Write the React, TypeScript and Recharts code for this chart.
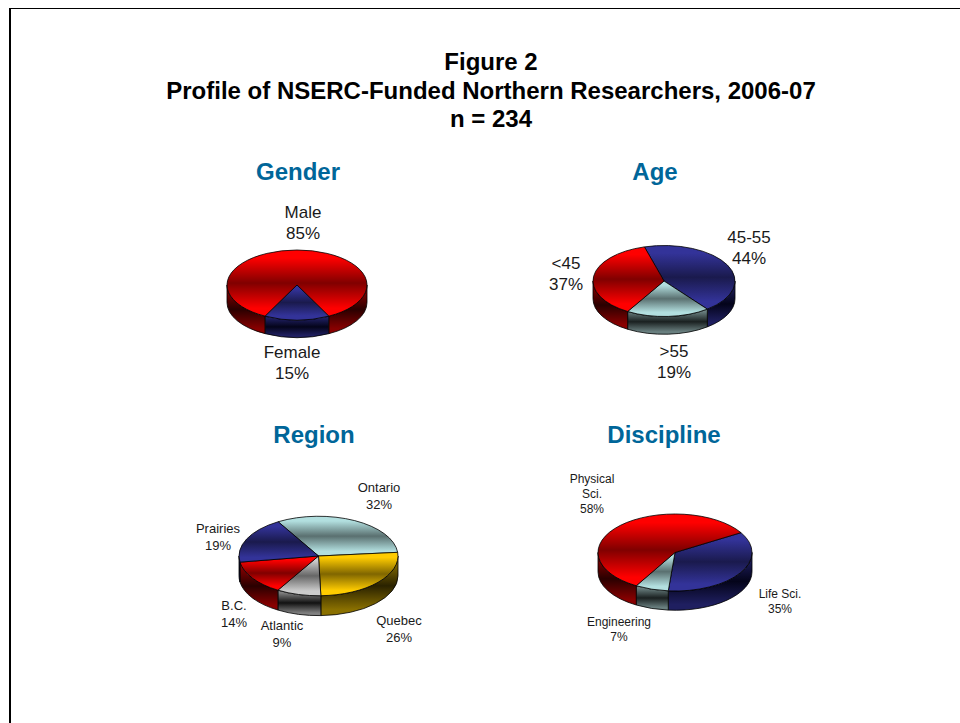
import { PieChart, Pie } from 'recharts';

// ─── Data ─────────────────────────────────────────────────────────────────────

const genderLabels = ['Male', 'Female'];
const genderValues = [85, 15];

const ageLabels = ['45-55', '>55', '<45'];
const ageValues = [44, 19, 37];

const regionLabels = ['Ontario', 'Quebec', 'Atlantic', 'B.C.', 'Prairies'];
const regionValues = [32, 26, 9, 14, 19];

const disciplineLabels = ['Life Sci.', 'Engineering', 'Physical\nSci.'];
const disciplineValues = [35, 7, 58];

const titleLines = ['Figure 2', 'Profile of NSERC-Funded Northern Researchers, 2006-07', 'n = 234'];

// ─── Colours ──────────────────────────────────────────────────────────────────

const SHADES: Record<string, { top: string; mid: string; wallTop: string; wallMid: string }> = {
  red: { top: '#FF0000', mid: '#800000', wallTop: '#880000', wallMid: '#2A0000' },
  blue: { top: '#333399', mid: '#1A1A4D', wallTop: '#1F1F60', wallMid: '#04041A' },
  teal: { top: '#B2DFDF', mid: '#5A7070', wallTop: '#6A8080', wallMid: '#1A2020' },
  gold: { top: '#FFCC00', mid: '#806600', wallTop: '#8A7000', wallMid: '#2A2200' },
  gray: { top: '#CCCCCC', mid: '#666666', wallTop: '#808080', wallMid: '#111111' },
};

const FONT = "'Liberation Sans', Arial, sans-serif";

// ─── 3D slice ─────────────────────────────────────────────────────────────────

const TILT = 0.5;
const DEPTH = 0.25;

function Slice3D(props: any) {
  const { cx, cy, outerRadius: rx, startAngle, endAngle } = props;
  const ry = rx * TILT;
  const depth = rx * DEPTH;
  const shade = props.shade ?? props.payload?.shade;

  const pt = (clockDeg: number, dy = 0) => {
    const r = (clockDeg * Math.PI) / 180;
    return `${cx + rx * Math.sin(r)} ${cy - ry * Math.cos(r) + dy}`;
  };

  // clockwise degrees from 12 o'clock
  const a0 = 90 - startAngle;
  const a1 = 90 - endAngle;
  const large = a1 - a0 > 180 ? 1 : 0;
  const top = `M${cx} ${cy} L${pt(a0)} A${rx} ${ry} 0 ${large} 1 ${pt(a1)} Z`;

  // only the front half of the rim shows
  const walls: string[] = [];
  for (const k of [-360, 0, 360]) {
    const s = Math.max(a0, 90 + k);
    const e = Math.min(a1, 270 + k);
    if (e > s) {
      walls.push(
        `M${pt(s)} A${rx} ${ry} 0 0 1 ${pt(e)} L${pt(e, depth)} A${rx} ${ry} 0 0 0 ${pt(s, depth)} Z`,
      );
    }
  }

  return (
    <g>
      {walls.map((d) => (
        <path key={d} d={d} fill={`url(#wall-${shade})`} stroke="#000" strokeWidth={0.8} />
      ))}
      <path d={top} fill={`url(#top-${shade})`} stroke="#000" strokeWidth={0.8} />
    </g>
  );
}

// ─── Labels ───────────────────────────────────────────────────────────────────

function makeLabel(names: string[], values: number[], spots: number[][], fontSize: number, lineH: number) {
  return (props: any) => {
    const [x, y] = spots[props.index];
    const lines = [...names[props.index].split('\n'), `${values[props.index]}%`];
    return (
      <text x={x} y={y} textAnchor="middle" fontSize={fontSize} fill="#1a1a1a" fontFamily={FONT}>
        {lines.map((l, i) => (
          <tspan key={l} x={x} dy={i === 0 ? 0 : lineH}>{l}</tspan>
        ))}
      </text>
    );
  };
}

const toRows = (names: string[], values: number[], shades: string[]) =>
  names.map((n, i) => ({ name: n, value: values[i], shade: shades[i] }));

const PIES = [
  {
    key: 'gender', names: genderLabels, values: genderValues, shades: ['red', 'blue'],
    cx: 297, cy: 285, r: 70, start: 207,
    spots: [[303, 218], [292, 358]], fontSize: 17, lineH: 21,
  },
  {
    key: 'age', names: ageLabels, values: ageValues, shades: ['blue', 'teal', 'red'],
    cx: 664, cy: 281, r: 71, start: -16,
    spots: [[749, 243], [674, 357], [566, 269]], fontSize: 17, lineH: 21,
  },
  {
    key: 'region', names: regionLabels, values: regionValues, shades: ['teal', 'gold', 'gray', 'red', 'blue'],
    cx: 318.5, cy: 556, r: 79.5, start: -30.5,
    spots: [[379, 492], [399, 625], [282, 630], [234, 610], [218, 533]], fontSize: 13, lineH: 17,
  },
  {
    key: 'discipline', names: disciplineLabels, values: disciplineValues, shades: ['blue', 'teal', 'red'],
    cx: 675, cy: 552.5, r: 77, start: 59,
    spots: [[780, 598], [619, 626], [592, 483]], fontSize: 12, lineH: 15,
  },
];

const HEADINGS = [
  { text: 'Gender', x: 298, y: 180 },
  { text: 'Age', x: 655, y: 180 },
  { text: 'Region', x: 314, y: 443 },
  { text: 'Discipline', x: 664, y: 443 },
];

// ─── Chart ────────────────────────────────────────────────────────────────────

export default function App() {
  return (
    <div style={{ position: 'absolute', left: 0, top: 0, width: 960, height: 723, background: '#fff', overflow: 'hidden' }}>
      <div style={{ position: 'absolute', left: 9, top: 8, width: 1000, height: 800, borderLeft: '2px solid #000', borderTop: '1.5px solid #000' }} />
      <PieChart width={960} height={723} margin={{ top: 0, right: 0, bottom: 0, left: 0 }} style={{ position: 'absolute', left: 0, top: 0 }}>
        <defs>
          {Object.entries(SHADES).map(([k, c]) => (
            <linearGradient key={`top-${k}`} id={`top-${k}`} x1="0" y1="0" x2="0" y2="1">
              <stop offset="12%" stopColor={c.top} />
              <stop offset="50%" stopColor={c.mid} />
              <stop offset="88%" stopColor={c.top} />
            </linearGradient>
          ))}
          {Object.entries(SHADES).map(([k, c]) => (
            <linearGradient key={`wall-${k}`} id={`wall-${k}`} x1="0" y1="0" x2="0" y2="1">
              <stop offset="10%" stopColor={c.wallTop} />
              <stop offset="50%" stopColor={c.wallMid} />
              <stop offset="90%" stopColor={c.wallTop} />
            </linearGradient>
          ))}
        </defs>

        {titleLines.map((t, i) => (
          <text key={t} x={491} y={70 + i * 28.5} textAnchor="middle" fontSize={24} fontWeight="bold" fill="#000" fontFamily={FONT}>
            {t}
          </text>
        ))}
        {HEADINGS.map((h) => (
          <text key={h.text} x={h.x} y={h.y} textAnchor="middle" fontSize={24} fontWeight="bold" fill="#006699" fontFamily={FONT}>
            {h.text}
          </text>
        ))}

        {PIES.map((p) => (
          <Pie
            key={p.key}
            data={toRows(p.names, p.values, p.shades)}
            dataKey="value"
            nameKey="name"
            cx={p.cx}
            cy={p.cy}
            innerRadius={0}
            outerRadius={p.r}
            startAngle={90 - p.start}
            endAngle={90 - p.start - 360}
            paddingAngle={0}
            stroke="#000"
            shape={Slice3D}
            activeShape={Slice3D}
            inactiveShape={Slice3D}
            label={makeLabel(p.names, p.values, p.spots, p.fontSize, p.lineH)}
            labelLine={false}
            isAnimationActive={false}
          />
        ))}
      </PieChart>
    </div>
  );
}
